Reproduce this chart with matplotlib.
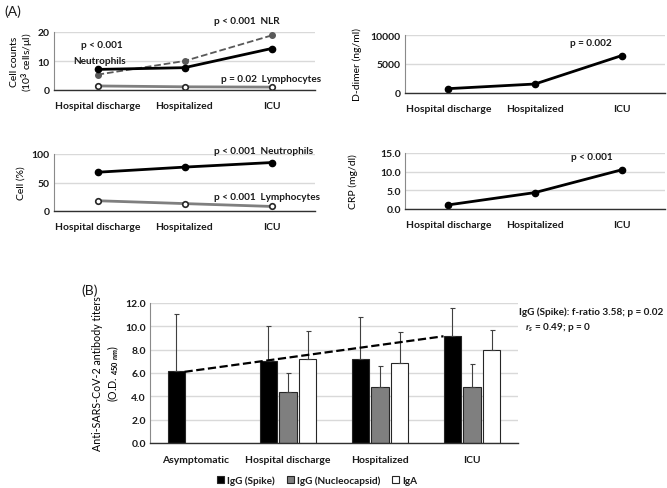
import matplotlib
matplotlib.use("Agg")
import matplotlib.pyplot as plt
from matplotlib.patches import Patch
import numpy as np

# ── 数据 ──────────────────────────────────────────────
groups_a = ["Hospital discharge", "Hospitalized", "ICU"]
neutro_counts = [7.1, 7.7, 14.3]
nlr = [5.3, 10.0, 18.8]
lympho_counts = [1.4, 1.1, 1.0]
ddimer = [750, 1550, 6450]
neutro_pct = [68, 77, 85]
lympho_pct = [18, 13, 8]
crp = [1.1, 4.4, 10.5]

groups_b = ["Asymptomatic", "Hospital discharge", "Hospitalized", "ICU"]
igg_spike = [6.2, 7.0, 7.2, 9.2]
igg_spike_err = [4.9, 3.0, 3.6, 2.4]
igg_nuc = [np.nan, 4.4, 4.8, 4.8]
igg_nuc_err = [0, 1.6, 1.8, 2.0]
iga = [np.nan, 7.2, 6.85, 8.0]
iga_err = [0, 2.4, 2.7, 1.7]
series_names = ["IgG (Spike)", "IgG (Nucleocapsid)", "IgA"]

# ── 样式 ──────────────────────────────────────────────
FONT = "Lato"
FS = 7.2
plt.rcParams.update({
    "font.family": [FONT, "DejaVu Sans"],
    "font.weight": "bold",
    "font.size": FS,
    "mathtext.fontset": "custom",
    "mathtext.rm": FONT + ":bold",
    "mathtext.it": FONT + ":italic:bold",
    "mathtext.bf": FONT + ":bold",
    "axes.edgecolor": "#404040",
    "xtick.color": "#1a1a1a",
    "ytick.color": "#1a1a1a",
    "text.color": "#1a1a1a",
})

W, H = 667, 489
fig = plt.figure(figsize=(W / 100, H / 100), dpi=100)


def px(x, y):
    return x / W, 1 - y / H


def add_axes(x0, y0, x1, y1):
    ax = fig.add_axes([x0 / W, 1 - y1 / H, (x1 - x0) / W, (y1 - y0) / H])
    for s in ["top", "right"]:
        ax.spines[s].set_visible(False)
    ax.spines["left"].set_color("#8a8a8a")
    ax.spines["left"].set_linewidth(0.8)
    ax.spines["bottom"].set_color("#303030")
    ax.spines["bottom"].set_linewidth(1.0)
    ax.yaxis.grid(True, color="#d9d9d9", linewidth=1.0)
    ax.set_axisbelow(True)
    ax.tick_params(length=0, pad=3, labelsize=FS + 0.3)
    return ax


def line_panel(ax, labels):
    ax.set_xlim(-0.5, len(labels) - 0.5)
    ax.set_xticks(range(len(labels)))
    ax.set_xticklabels(labels)
    ax.tick_params(axis="x", pad=8)


x3 = np.arange(len(groups_a))

# 左上：细胞计数
ax1 = add_axes(54, 33, 315, 91)
ax1.plot(x3, nlr, "--", color="#595959", lw=1.3, marker="o", ms=4, mfc="#595959", mec="#595959")
ax1.plot(x3, neutro_counts, "-", color="black", lw=2.0, marker="o", ms=4.5)
ax1.plot(x3, lympho_counts, "-", color="#7f7f7f", lw=2.0, marker="o", ms=4, mfc="white", mec="#262626", mew=1.2)
ax1.set_ylim(0, 20)
ax1.set_yticks([0, 10, 20])
line_panel(ax1, groups_a)
ax1.set_ylabel("Cell counts\n(10$^3$ cells/μl)", fontsize=FS + 0.3, linespacing=1.0)
ax1.yaxis.set_label_coords(-0.07, 0.5)

# 右上：D-dimer
ax2 = add_axes(405, 36, 665, 94)
ax2.plot(x3, ddimer, "-", color="black", lw=2.0, marker="o", ms=4.5)
ax2.set_ylim(0, 10000)
ax2.set_yticks([0, 5000, 10000])
line_panel(ax2, groups_a)
ax2.set_ylabel("D-dimer (ng/ml)", fontsize=FS + 0.3)
ax2.yaxis.set_label_coords(-0.165, 0.5)

# 左下：细胞百分比
ax3 = add_axes(54, 155, 315, 212)
ax3.plot(x3, neutro_pct, "-", color="black", lw=2.0, marker="o", ms=4.5)
ax3.plot(x3, lympho_pct, "-", color="#7f7f7f", lw=2.0, marker="o", ms=4, mfc="white", mec="#262626", mew=1.2)
ax3.set_ylim(0, 100)
ax3.set_yticks([0, 50, 100])
line_panel(ax3, groups_a)
ax3.set_ylabel("Cell (%)", fontsize=FS + 0.3)
ax3.yaxis.set_label_coords(-0.107, 0.5)

# 右下：CRP
ax4 = add_axes(405, 154, 665, 210)
ax4.plot(x3, crp, "-", color="black", lw=2.0, marker="o", ms=4.5)
ax4.set_ylim(0, 15)
ax4.set_yticks([0, 5, 10, 15])
ax4.set_yticklabels(["0.0", "5.0", "10.0", "15.0"])
line_panel(ax4, groups_a)
ax4.set_ylabel("CRP (mg/dl)", fontsize=FS + 0.3)
ax4.yaxis.set_label_coords(-0.18, 0.5)

# 注释
fig.text(*px(4, 12), "(A)", fontsize=10, fontweight="normal", va="center")
fig.text(*px(247, 21), "p < 0.001  NLR", ha="center", va="center")
fig.text(*px(102, 45), "p < 0.001", ha="center", va="center")
fig.text(*px(100, 62), "Neutrophils", ha="center", va="center")
fig.text(*px(271, 80), "p = 0.02  Lymphocytes", ha="center", va="center")
fig.text(*px(591, 44), "p = 0.002", ha="center", va="center")
fig.text(*px(264, 152), "p < 0.001  Neutrophils", ha="center", va="center")
fig.text(*px(267, 198), "p < 0.001  Lymphocytes", ha="center", va="center")
fig.text(*px(592, 158), "p < 0.001", ha="center", va="center")

# ── (B) 抗体滴度柱状图 ──────────────────────────────────
ax5 = add_axes(150, 304, 518, 444)
x4 = np.arange(len(groups_b))
bw = 0.185
off = 0.217
colors = ["black", "#7f7f7f", "white"]
vals = [igg_spike, igg_nuc, iga]
errs = [igg_spike_err, igg_nuc_err, iga_err]
for i, (v, e, c) in enumerate(zip(vals, errs, colors)):
    xs = x4 + (i - 1) * off
    ax5.bar(xs, v, width=bw, color=c, edgecolor="#262626", linewidth=0.8, zorder=2)
    v_arr = np.array(v, dtype=float)
    mask = ~np.isnan(v_arr)
    ax5.errorbar(xs[mask], v_arr[mask], yerr=[np.zeros(mask.sum()), np.array(e)[mask]],
                 fmt="none", ecolor="#404040", elinewidth=0.8, capsize=1.8, capthick=0.8, zorder=3)

# 趋势线
ax5.plot([x4[0] - off + bw / 2, x4[-1] - off - bw / 2], [igg_spike[0] - 0.1, igg_spike[-1] - 0.05],
         "--", color="black", lw=1.6, zorder=4)
ax5.set_xlim(-0.5, len(groups_b) - 0.5)
ax5.set_ylim(0, 12)
ax5.set_yticks(np.arange(0, 12.1, 2))
ax5.set_yticklabels([f"{t:.1f}" for t in np.arange(0, 12.1, 2)])
ax5.set_xticks(x4)
ax5.set_xticklabels(groups_b)
ax5.tick_params(axis="x", pad=9)
ax5.set_ylabel("Anti-SARS-CoV-2 antibody titers\n(O.D. $_{450\\ nm}$)", fontsize=7.7, linespacing=1.2)
ax5.yaxis.set_label_coords(-0.08, 0.5)

fig.text(*px(81, 291), "(B)", fontsize=10, fontweight="normal", va="center")
fig.text(*px(519, 312), "IgG (Spike): f-ratio 3.58; p = 0.02", va="center")
fig.text(*px(525, 327), "$r_s$ = 0.49; p = 0", va="center")

handles = [Patch(facecolor=c, edgecolor="#262626", linewidth=0.8) for c in colors]
fig.legend(handles, series_names, loc="center", bbox_to_anchor=px(317, 481), ncol=3,
           frameon=False, fontsize=FS, handlelength=0.7, handleheight=0.7,
           handletextpad=0.3, columnspacing=1.2)

fig.savefig("out.png", dpi=100)
